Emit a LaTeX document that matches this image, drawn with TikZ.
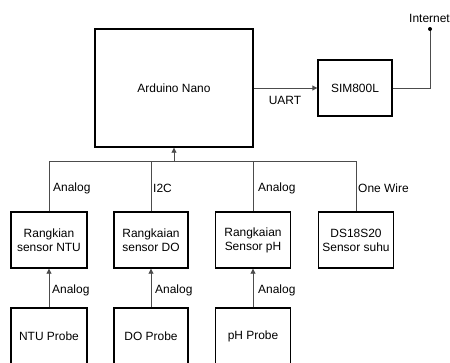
\documentclass[tikz,border=0pt]{standalone}
\usepackage{fontspec}
\setmainfont{Liberation Sans}
\usetikzlibrary{arrows.meta}
\begin{document}
\begin{tikzpicture}[x=1bp,y=-1bp,
  blk/.style={draw=black,line width=1.4bp,inner sep=0pt,font=\fontsize{12}{14}\selectfont,align=center},
  wire/.style={draw=black!70,line width=0.9bp},
  arr/.style={wire,-{Triangle[length=5bp,width=5bp]}},
  lbl/.style={font=\fontsize{12}{14}\selectfont,inner sep=0pt,anchor=west}]
\clip (0,0) rectangle (450,362);
\fill[white] (0,0) rectangle (450,362);
% main blocks
\node[blk,minimum width=158bp,minimum height=118bp] (ard) at (174,88) {Arduino Nano};
\node[blk,minimum width=74bp,minimum height=56bp] (sim) at (355,88) {SIM800L};
% sensor circuits
\node[blk,minimum width=76bp,minimum height=56bp] (s1) at (49,240) {Rangkian\\sensor NTU};
\node[blk,minimum width=74bp,minimum height=56bp] (s2) at (151,240) {Rangkaian\\sensor DO};
\node[blk,minimum width=75bp,minimum height=56bp] (s3) at (253,240) {Rangkaian\\Sensor pH};
\node[blk,minimum width=75bp,minimum height=56bp] (s4) at (356,240) {DS18S20\\Sensor suhu};
% probes
\node[blk,minimum width=76bp,minimum height=56bp] (p1) at (49,336) {NTU Probe};
\node[blk,minimum width=74bp,minimum height=56bp] (p2) at (151,336) {DO Probe};
\node[blk,minimum width=75bp,minimum height=56bp] (p3) at (253,336) {pH Probe};
% UART
\draw[arr] (ard.east) -- (sim.west);
\node[lbl,anchor=center] (uart) at (285,100) {UART};
% Internet
\coordinate (net) at (430,29);
\draw[wire] (sim.east) -| (net);
\fill (net) circle (2bp);
\node[lbl] (inet) at (409,18) {Internet};
% bus
\coordinate (bus) at (174,161);
\draw[wire] (s1.north) |- (s4.north |- bus) -- (s4.north);
\draw[wire] (s2.north) -- (s2.north |- bus);
\draw[wire] (s3.north) -- (s3.north |- bus);
\draw[arr] (bus) -- (ard.south);
\node[lbl] (l1) at (53,188) {Analog};
\node[lbl] (l2) at (153,188) {I2C};
\node[lbl] (l3) at (258,188) {Analog};
\node[lbl] (l4) at (358,188) {One Wire};
% probe links
\draw[arr] (p1.north) -- (s1.south);
\draw[arr] (p2.north) -- (s2.south);
\draw[arr] (p3.north) -- (s3.south);
\node[lbl] (a1) at (52,290) {Analog};
\node[lbl] (a2) at (155,290) {Analog};
\node[lbl] (a3) at (258,290) {Analog};
\end{tikzpicture}
\end{document}
